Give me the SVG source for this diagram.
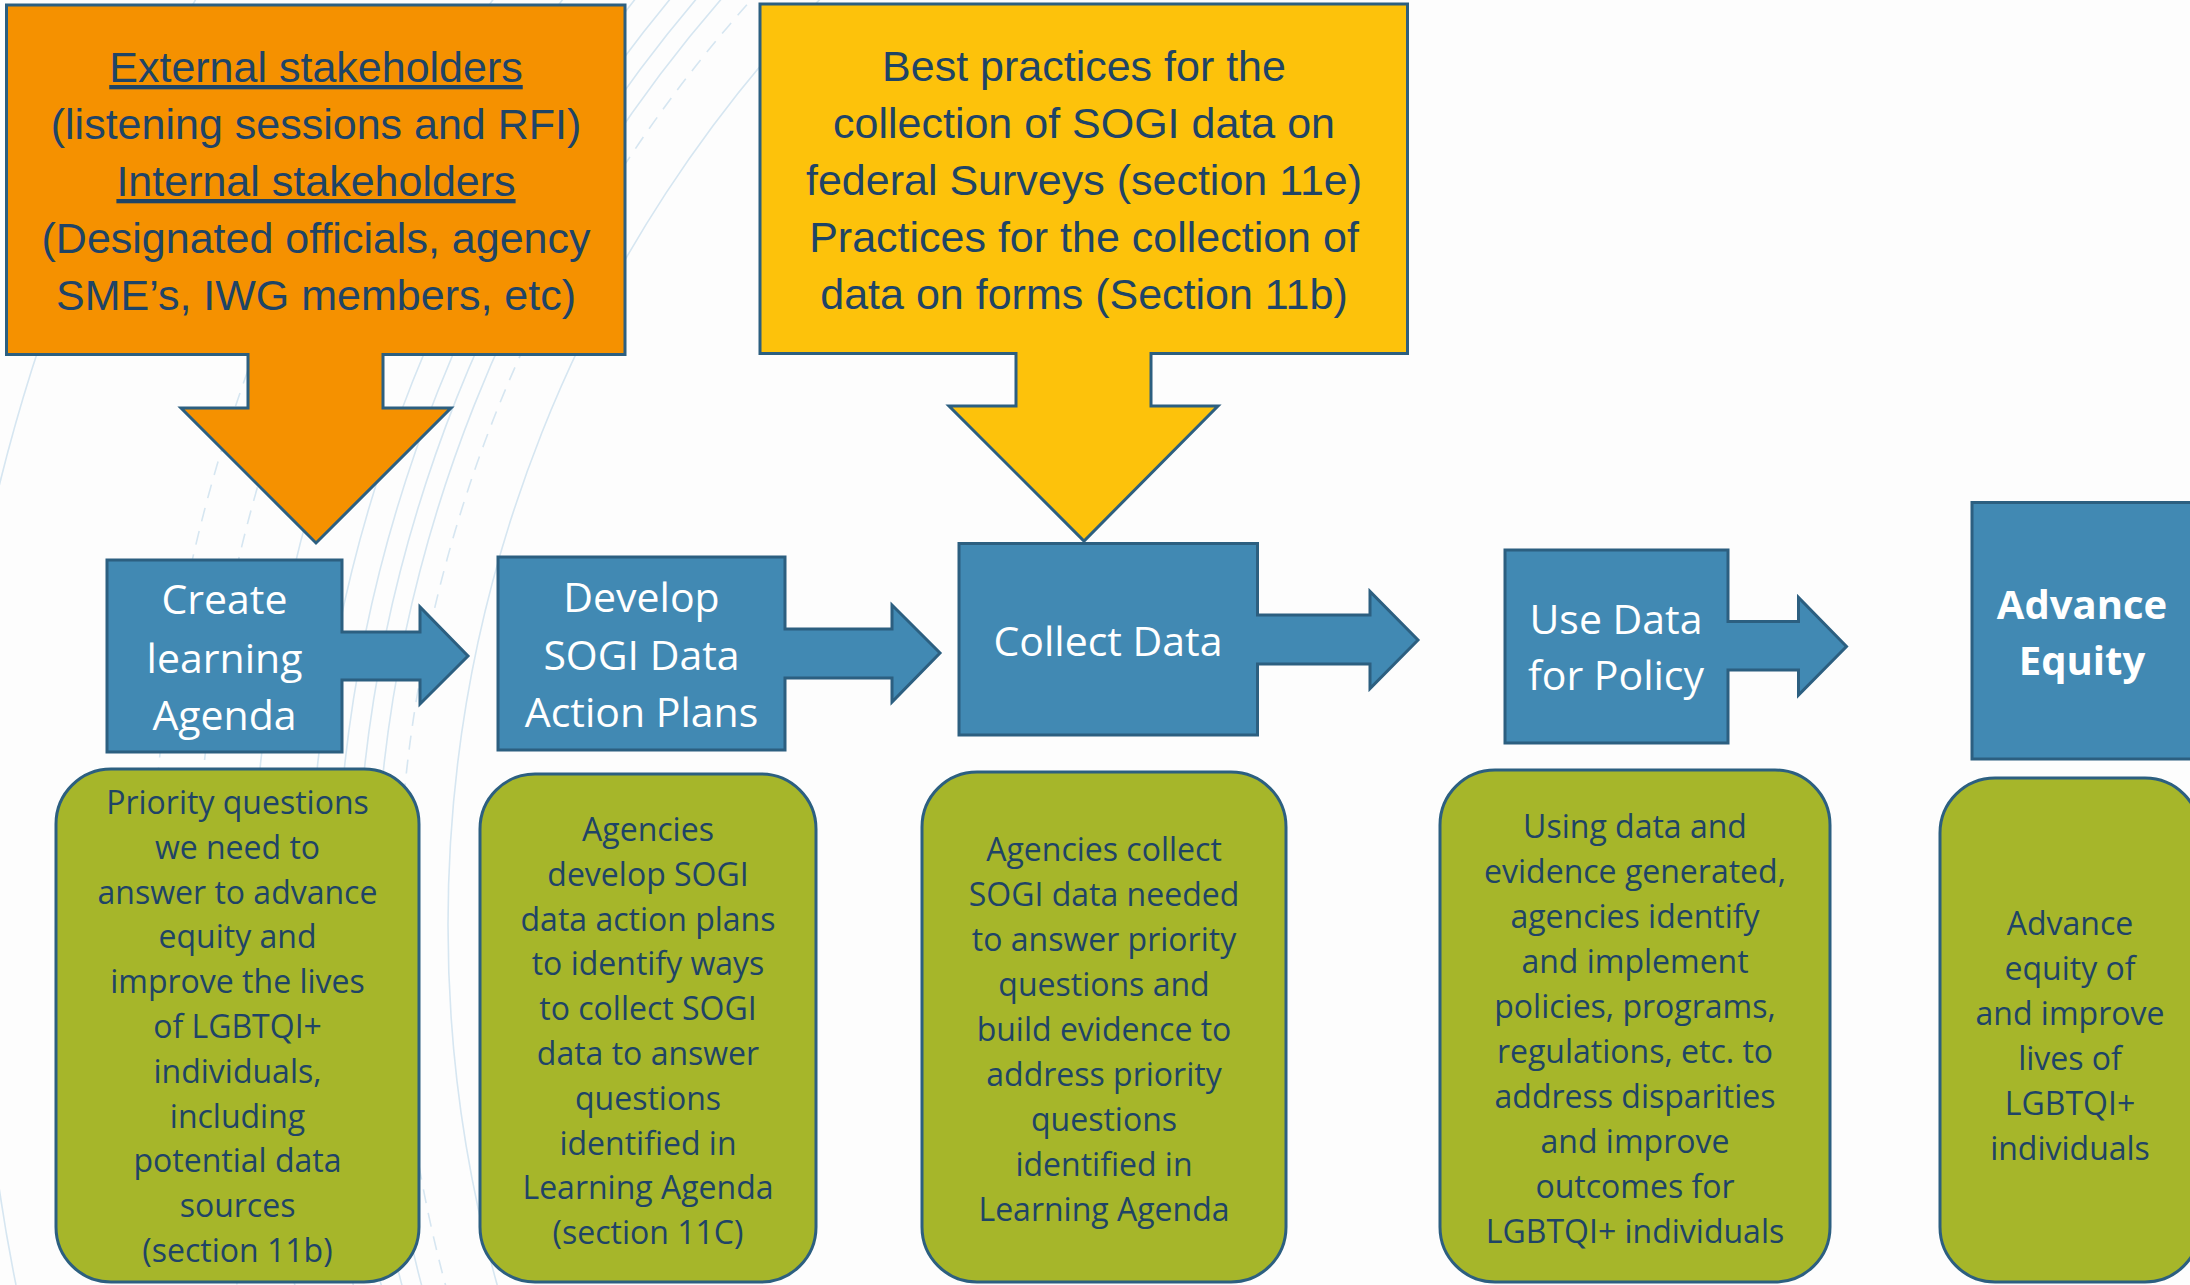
<svg xmlns="http://www.w3.org/2000/svg" width="2190" height="1285" viewBox="0 0 2190 1285">
<defs>
<style>
.bg{fill:#FDFDFD}
.arc{fill:none;stroke:#D6E6F1;stroke-width:1.6}
.arcd{fill:none;stroke:#D6E6F1;stroke-width:1.6;stroke-dasharray:14 10}
.blue{fill:#4189B3;stroke:#2C5F80;stroke-width:3;stroke-linejoin:miter}
.orange{fill:#F59100;stroke:#2C5F80;stroke-width:3}
.yellow{fill:#FDC20B;stroke:#2C5F80;stroke-width:3}
.green{fill:#A6B62A;stroke:#2C5F80;stroke-width:3}
.top{font-family:"Liberation Sans",Arial,sans-serif;font-size:43px;fill:#1F4466;text-anchor:middle}
.lbl{font-family:"Open Sans","Liberation Sans",sans-serif;font-size:41px;fill:#FFFFFF;text-anchor:middle}
.lblb{font-family:"Open Sans","Liberation Sans",sans-serif;font-size:40px;font-weight:bold;fill:#FFFFFF;text-anchor:middle}
.desc{font-family:"Open Sans","Liberation Sans",sans-serif;font-size:32px;fill:#1F4466;text-anchor:middle}
</style>
</defs>
<rect class="bg" x="0" y="0" width="2190" height="1285"/>
<g id="background-arcs">
<circle class="arc" cx="1786" cy="925" r="1338"/>
<circle class="arcd" cx="1786" cy="925" r="1388"/>
<circle class="arc" cx="1786" cy="925" r="1411"/>
<circle class="arc" cx="1786" cy="925" r="1430"/>
<circle class="arc" cx="1786" cy="925" r="1450"/>
<circle class="arc" cx="1786" cy="925" r="1477"/>
<circle class="arc" cx="1786" cy="925" r="1534"/>
<circle class="arcd" cx="1786" cy="925" r="1590"/>
<circle class="arcd" cx="1786" cy="925" r="1635"/>
<circle class="arc" cx="1786" cy="925" r="1840"/>
<path class="arc" d="M-6,1150 A1806,1806 0 0,0 16,1285"/>
</g>
<g id="connectors">
<path id="input-stakeholders" class="orange" d="M6.5,5 H625 V354.5 H383 V408 H451 L316,543 L181,408 H248 V354.5 H6.5 Z"/>
<path id="input-practices" class="yellow" d="M760,4 H1407.5 V353.5 H1151 V406 H1218 L1084,541 L949,406 H1016 V353.5 H760 Z"/>
</g>
<g id="node-stakeholders-text">
<text class="top" x="316" y="82" text-decoration="underline">External stakeholders</text>
<text class="top" x="316" y="139">(listening sessions and RFI)</text>
<text class="top" x="316" y="196" text-decoration="underline">Internal stakeholders</text>
<text class="top" x="316" y="253">(Designated officials, agency</text>
<text class="top" x="316" y="310">SME’s, IWG members, etc)</text>
</g>
<g id="node-practices-text">
<text class="top" x="1084" y="81">Best practices for the</text>
<text class="top" x="1084" y="138">collection of SOGI data on</text>
<text class="top" x="1084" y="195">federal Surveys (section 11e)</text>
<text class="top" x="1084" y="252">Practices for the collection of</text>
<text class="top" x="1084" y="309">data on forms (Section 11b)</text>
</g>
<g id="node-create">
<path class="blue" d="M107,560 H342 V632 H420 V607 L468,656 L420,704 V680 H342 V752 H107 Z"/>
<text class="lbl" x="224.5" y="614">Create</text>
<text class="lbl" x="224.5" y="673">learning</text>
<text class="lbl" x="224.5" y="730">Agenda</text>
</g>
<g id="node-develop">
<path class="blue" d="M498,557 H785 V629 H892 V605 L940,653 L892,702 V678 H785 V750 H498 Z"/>
<text class="lbl" x="641.5" y="612">Develop</text>
<text class="lbl" x="641.5" y="670">SOGI Data</text>
<text class="lbl" x="641.5" y="727">Action Plans</text>
</g>
<g id="node-collect">
<path class="blue" d="M959,543.5 H1257.5 V615 H1370 V591.5 L1418,640 L1370,688.5 V664 H1257.5 V735 H959 Z"/>
<text class="lbl" x="1108" y="656">Collect Data</text>
</g>
<g id="node-use">
<path class="blue" d="M1505,550 H1728 V621.5 H1798.5 V597.5 L1846.5,646.5 L1798.5,695 V670 H1728 V743 H1505 Z"/>
<text class="lbl" x="1616" y="634">Use Data</text>
<text class="lbl" x="1616" y="690">for Policy</text>
</g>
<g id="node-advance">
<rect class="blue" x="1972" y="502.5" width="220" height="256.5"/>
<text class="lblb" x="2082" y="619">Advance</text>
<text class="lblb" x="2082" y="675">Equity</text>
</g>
<g id="desc-create">
<rect class="green" x="56" y="769" width="363" height="513" rx="55" ry="55"/>
<text class="desc" x="237.5" y="814">Priority questions</text>
<text class="desc" x="237.5" y="858.8">we need to</text>
<text class="desc" x="237.5" y="903.6">answer to advance</text>
<text class="desc" x="237.5" y="948.4">equity and</text>
<text class="desc" x="237.5" y="993.2">improve the lives</text>
<text class="desc" x="237.5" y="1038">of LGBTQI+</text>
<text class="desc" x="237.5" y="1082.8">individuals,</text>
<text class="desc" x="237.5" y="1127.6">including</text>
<text class="desc" x="237.5" y="1172.4">potential data</text>
<text class="desc" x="237.5" y="1217.2">sources</text>
<text class="desc" x="237.5" y="1262">(section 11b)</text>
</g>
<g id="desc-develop">
<rect class="green" x="480" y="774" width="336" height="508" rx="55" ry="55"/>
<text class="desc" x="648" y="841">Agencies</text>
<text class="desc" x="648" y="885.8">develop SOGI</text>
<text class="desc" x="648" y="930.6">data action plans</text>
<text class="desc" x="648" y="975.4">to identify ways</text>
<text class="desc" x="648" y="1020.2">to collect SOGI</text>
<text class="desc" x="648" y="1065">data to answer</text>
<text class="desc" x="648" y="1109.8">questions</text>
<text class="desc" x="648" y="1154.6">identified in</text>
<text class="desc" x="648" y="1199.4">Learning Agenda</text>
<text class="desc" x="648" y="1244.2">(section 11C)</text>
</g>
<g id="desc-collect">
<rect class="green" x="922" y="772" width="364" height="510" rx="55" ry="55"/>
<text class="desc" x="1104" y="861">Agencies collect</text>
<text class="desc" x="1104" y="906">SOGI data needed</text>
<text class="desc" x="1104" y="951">to answer priority</text>
<text class="desc" x="1104" y="996">questions and</text>
<text class="desc" x="1104" y="1041">build evidence to</text>
<text class="desc" x="1104" y="1086">address priority</text>
<text class="desc" x="1104" y="1131">questions</text>
<text class="desc" x="1104" y="1176">identified in</text>
<text class="desc" x="1104" y="1221">Learning Agenda</text>
</g>
<g id="desc-use">
<rect class="green" x="1440" y="770" width="390" height="512" rx="55" ry="55"/>
<text class="desc" x="1635" y="838">Using data and</text>
<text class="desc" x="1635" y="883">evidence generated,</text>
<text class="desc" x="1635" y="928">agencies identify</text>
<text class="desc" x="1635" y="973">and implement</text>
<text class="desc" x="1635" y="1018">policies, programs,</text>
<text class="desc" x="1635" y="1063">regulations, etc. to</text>
<text class="desc" x="1635" y="1108">address disparities</text>
<text class="desc" x="1635" y="1153">and improve</text>
<text class="desc" x="1635" y="1198">outcomes for</text>
<text class="desc" x="1635" y="1243">LGBTQI+ individuals</text>
</g>
<g id="desc-advance">
<rect class="green" x="1940" y="778" width="260" height="504" rx="55" ry="55"/>
<text class="desc" x="2070" y="934.5">Advance</text>
<text class="desc" x="2070" y="979.5">equity of</text>
<text class="desc" x="2070" y="1024.5">and improve</text>
<text class="desc" x="2070" y="1069.5">lives of</text>
<text class="desc" x="2070" y="1114.5">LGBTQI+</text>
<text class="desc" x="2070" y="1159.5">individuals</text>
</g>
</svg>
